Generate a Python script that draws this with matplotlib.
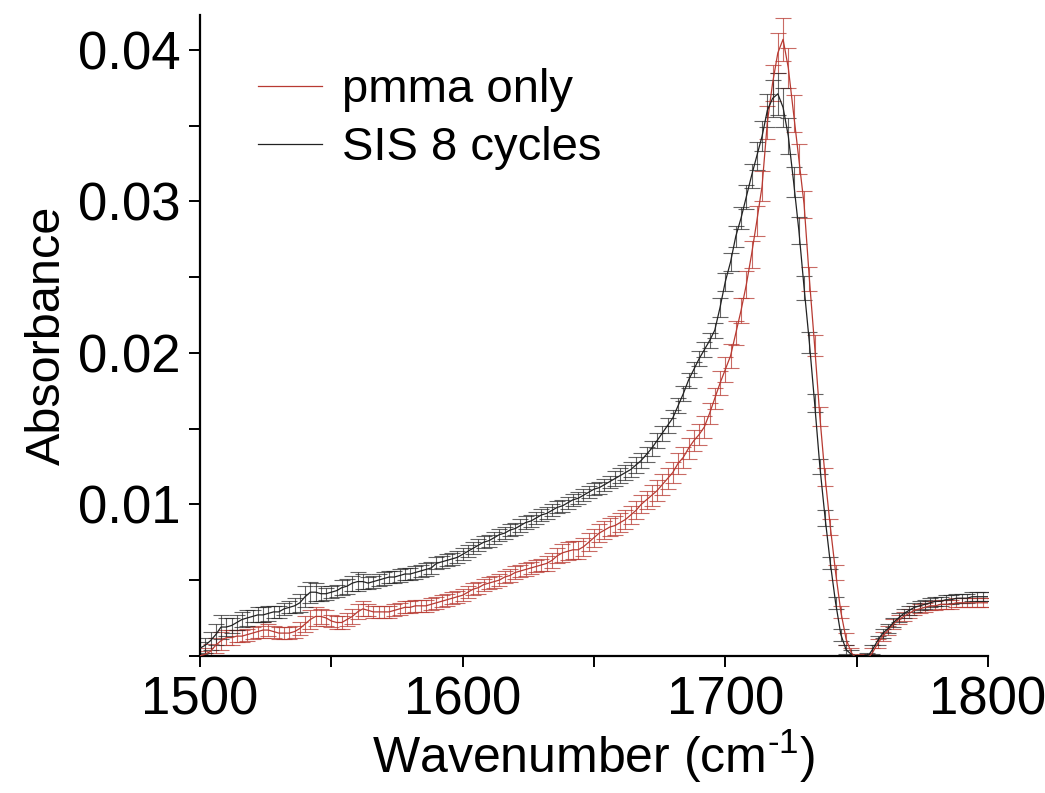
import numpy as np
import matplotlib
matplotlib.use("Agg")
import matplotlib.pyplot as plt
from matplotlib.ticker import MultipleLocator
from matplotlib.lines import Line2D

plt.rcParams['font.family'] = ['Liberation Sans', 'DejaVu Sans']
plt.rcParams['mathtext.fontset'] = 'custom'
plt.rcParams['mathtext.rm'] = 'Liberation Sans'
plt.rcParams['mathtext.default'] = 'regular'

# wavenumber grid (cm^-1), 2 cm^-1 spacing
wavenumber = np.arange(1500, 1801, 2)

pmma_only = [
    0.0000, 0.0001, 0.0003, 0.0007, 0.0010, 0.0012, 0.0012, 0.0013, 0.0013, 0.0014,  # 1500-1518
    0.0015, 0.0016, 0.0017, 0.0017, 0.0016, 0.0015, 0.0015, 0.0015, 0.0016, 0.0018,  # 1520-1538
    0.0021, 0.0024, 0.0026, 0.0026, 0.0025, 0.0023, 0.0022, 0.0022, 0.0024, 0.0026,  # 1540-1558
    0.0029, 0.0031, 0.0030, 0.0029, 0.0029, 0.0029, 0.0029, 0.0030, 0.0031, 0.0032,  # 1560-1578
    0.0032, 0.0033, 0.0033, 0.0033, 0.0034, 0.0035, 0.0036, 0.0037, 0.0038, 0.0039,  # 1580-1598
    0.0040, 0.0042, 0.0044, 0.0045, 0.0047, 0.0048, 0.0049, 0.0050, 0.0052, 0.0053,  # 1600-1618
    0.0055, 0.0056, 0.0057, 0.0058, 0.0059, 0.0060, 0.0061, 0.0063, 0.0066, 0.0068,  # 1620-1638
    0.0069, 0.0070, 0.0070, 0.0072, 0.0075, 0.0078, 0.0081, 0.0083, 0.0085, 0.0086,  # 1640-1658
    0.0088, 0.0090, 0.0093, 0.0096, 0.0100, 0.0103, 0.0106, 0.0109, 0.0113, 0.0117,  # 1660-1678
    0.0121, 0.0127, 0.0131, 0.0137, 0.0142, 0.0146, 0.0151, 0.0160, 0.0170, 0.0180,  # 1680-1698
    0.0189, 0.0198, 0.0213, 0.0228, 0.0245, 0.0265, 0.0287, 0.0310, 0.0352, 0.0378,  # 1700-1718
    0.0398, 0.0407, 0.0388, 0.0358, 0.0328, 0.0298, 0.0249, 0.0205, 0.0158, 0.0118,  # 1720-1738
    0.0085, 0.0055, 0.0029, 0.0011, 0.0002, -0.0002, -0.0004, -0.0002, 0.0002, 0.0008,  # 1740-1758
    0.0013, 0.0017, 0.0021, 0.0024, 0.0026, 0.0028, 0.0030, 0.0031, 0.0032, 0.0033,  # 1760-1778
    0.0033, 0.0034, 0.0034, 0.0034, 0.0035, 0.0035, 0.0035, 0.0035, 0.0035, 0.0035,  # 1780-1798
    0.0035,                                                                          # 1800
]

pmma_err = [
    0.0003, 0.0004, 0.0005, 0.0005, 0.0006, 0.0005, 0.0005, 0.0004, 0.0004, 0.0004,
    0.0004, 0.0004, 0.0005, 0.0004, 0.0004, 0.0004, 0.0004, 0.0004, 0.0004, 0.0004,
    0.0005, 0.0006, 0.0006, 0.0005, 0.0005, 0.0004, 0.0004, 0.0004, 0.0004, 0.0005,
    0.0005, 0.0005, 0.0004, 0.0004, 0.0004, 0.0004, 0.0004, 0.0004, 0.0004, 0.0004,
    0.0004, 0.0004, 0.0004, 0.0004, 0.0004, 0.0004, 0.0004, 0.0004, 0.0004, 0.0004,
    0.0004, 0.0004, 0.0004, 0.0004, 0.0004, 0.0004, 0.0004, 0.0004, 0.0004, 0.0004,
    0.0004, 0.0004, 0.0004, 0.0004, 0.0004, 0.0004, 0.0005, 0.0005, 0.0005, 0.0006,
    0.0006, 0.0006, 0.0006, 0.0006, 0.0006, 0.0006, 0.0006, 0.0006, 0.0006, 0.0006,
    0.0006, 0.0006, 0.0006, 0.0006, 0.0006, 0.0006, 0.0007, 0.0007, 0.0007, 0.0007,
    0.0007, 0.0007, 0.0007, 0.0007, 0.0007, 0.0007, 0.0007, 0.0007, 0.0007, 0.0008,
    0.0008, 0.0008, 0.0008, 0.0008, 0.0009, 0.0009, 0.0010, 0.0010, 0.0011, 0.0012,
    0.0013, 0.0014, 0.0013, 0.0012, 0.0010, 0.0009, 0.0008, 0.0007, 0.0006, 0.0006,
    0.0005, 0.0005, 0.0004, 0.0004, 0.0003, 0.0003, 0.0003, 0.0003, 0.0003, 0.0003,
    0.0003, 0.0003, 0.0003, 0.0003, 0.0003, 0.0003, 0.0003, 0.0003, 0.0003, 0.0003,
    0.0003, 0.0003, 0.0003, 0.0003, 0.0003, 0.0003, 0.0003, 0.0003, 0.0003, 0.0003,
    0.0003,
]

sis_8_cycles = [
    0.0005, 0.0007, 0.0010, 0.0014, 0.0019, 0.0019, 0.0020, 0.0022, 0.0024, 0.0025,  # 1500-1518
    0.0026, 0.0027, 0.0027, 0.0028, 0.0029, 0.0029, 0.0031, 0.0032, 0.0033, 0.0035,  # 1520-1538
    0.0039, 0.0042, 0.0042, 0.0041, 0.0041, 0.0042, 0.0043, 0.0045, 0.0046, 0.0048,  # 1540-1558
    0.0049, 0.0049, 0.0048, 0.0049, 0.0050, 0.0051, 0.0052, 0.0052, 0.0053, 0.0054,  # 1560-1578
    0.0054, 0.0055, 0.0056, 0.0057, 0.0058, 0.0061, 0.0062, 0.0063, 0.0064, 0.0065,  # 1580-1598
    0.0067, 0.0069, 0.0071, 0.0073, 0.0075, 0.0076, 0.0078, 0.0080, 0.0081, 0.0083,  # 1600-1618
    0.0084, 0.0086, 0.0088, 0.0089, 0.0091, 0.0093, 0.0094, 0.0096, 0.0098, 0.0099,  # 1620-1638
    0.0101, 0.0103, 0.0104, 0.0106, 0.0108, 0.0110, 0.0111, 0.0113, 0.0115, 0.0117,  # 1640-1658
    0.0119, 0.0121, 0.0123, 0.0126, 0.0129, 0.0133, 0.0137, 0.0142, 0.0147, 0.0152,  # 1660-1678
    0.0157, 0.0165, 0.0173, 0.0182, 0.0189, 0.0196, 0.0202, 0.0208, 0.0215, 0.0230,  # 1680-1698
    0.0247, 0.0260, 0.0277, 0.0289, 0.0303, 0.0317, 0.0330, 0.0343, 0.0360, 0.0368,  # 1700-1718
    0.0371, 0.0362, 0.0343, 0.0313, 0.0281, 0.0243, 0.0207, 0.0167, 0.0125, 0.0091,  # 1720-1738
    0.0061, 0.0035, 0.0014, 0.0004, 0.0001, -0.0003, -0.0004, -0.0001, 0.0004, 0.0010,  # 1740-1758
    0.0015, 0.0018, 0.0022, 0.0025, 0.0028, 0.0030, 0.0032, 0.0033, 0.0034, 0.0035,  # 1760-1778
    0.0036, 0.0036, 0.0037, 0.0037, 0.0038, 0.0038, 0.0038, 0.0039, 0.0039, 0.0039,  # 1780-1798
    0.0039,                                                                          # 1800
]

sis_err = [
    0.0004, 0.0005, 0.0006, 0.0007, 0.0008, 0.0006, 0.0005, 0.0005, 0.0005, 0.0005,
    0.0004, 0.0005, 0.0005, 0.0005, 0.0004, 0.0004, 0.0004, 0.0004, 0.0005, 0.0006,
    0.0007, 0.0007, 0.0006, 0.0005, 0.0004, 0.0004, 0.0004, 0.0005, 0.0005, 0.0005,
    0.0006, 0.0005, 0.0004, 0.0004, 0.0004, 0.0004, 0.0004, 0.0004, 0.0004, 0.0004,
    0.0004, 0.0004, 0.0004, 0.0004, 0.0004, 0.0004, 0.0004, 0.0004, 0.0004, 0.0004,
    0.0004, 0.0004, 0.0004, 0.0004, 0.0004, 0.0004, 0.0004, 0.0004, 0.0004, 0.0004,
    0.0004, 0.0004, 0.0004, 0.0004, 0.0004, 0.0004, 0.0004, 0.0004, 0.0004, 0.0004,
    0.0004, 0.0004, 0.0004, 0.0004, 0.0004, 0.0004, 0.0004, 0.0004, 0.0004, 0.0005,
    0.0005, 0.0005, 0.0005, 0.0005, 0.0005, 0.0005, 0.0005, 0.0005, 0.0005, 0.0005,
    0.0005, 0.0005, 0.0005, 0.0005, 0.0005, 0.0005, 0.0005, 0.0005, 0.0005, 0.0006,
    0.0006, 0.0006, 0.0007, 0.0007, 0.0008, 0.0008, 0.0009, 0.0010, 0.0011, 0.0012,
    0.0014, 0.0013, 0.0012, 0.0010, 0.0009, 0.0008, 0.0007, 0.0006, 0.0005, 0.0005,
    0.0004, 0.0004, 0.0004, 0.0003, 0.0003, 0.0003, 0.0003, 0.0003, 0.0003, 0.0003,
    0.0003, 0.0003, 0.0003, 0.0003, 0.0003, 0.0003, 0.0003, 0.0003, 0.0003, 0.0003,
    0.0003, 0.0003, 0.0003, 0.0003, 0.0003, 0.0003, 0.0003, 0.0003, 0.0003, 0.0003,
    0.0003,
]

series_labels = ["pmma only", "SIS 8 cycles"]
x_ticks = [1500, 1600, 1700, 1800]
y_ticks = [0.01, 0.02, 0.03, 0.04]

RED = "#b83a32"
BLACK = "#222222"

fig = plt.figure(figsize=(10.45, 7.93), dpi=100)
ax = fig.add_axes([0.1914, 0.173, 0.754, 0.808])

ax.errorbar(wavenumber, pmma_only, yerr=pmma_err, fmt='none', ecolor=RED,
            elinewidth=0.8, capsize=6, capthick=0.8, alpha=0.75, zorder=2)
ax.errorbar(wavenumber, sis_8_cycles, yerr=sis_err, fmt='none', ecolor=BLACK,
            elinewidth=0.8, capsize=6, capthick=0.8, alpha=0.7, zorder=2)
ax.plot(wavenumber, pmma_only, color=RED, lw=0.9, zorder=3)
ax.plot(wavenumber, sis_8_cycles, color=BLACK, lw=0.9, zorder=3)

ax.set_xlim(1500, 1800)
ax.set_ylim(0.0, 0.0423)
ax.set_xticks(x_ticks)
ax.set_xticklabels([str(t) for t in x_ticks])
ax.set_yticks(y_ticks)
ax.set_yticklabels(["0.01", "0.02", "0.03", "0.04"])
ax.xaxis.set_minor_locator(MultipleLocator(50))
ax.yaxis.set_minor_locator(MultipleLocator(0.005))

for s in ["top", "right"]:
    ax.spines[s].set_visible(False)
for s in ["left", "bottom"]:
    ax.spines[s].set_linewidth(1.6)

ax.tick_params(axis='both', which='major', direction='out', length=8, width=1.4,
               labelsize=38, pad=6)
ax.tick_params(axis='both', which='minor', direction='out', length=8, width=1.4)

ax.set_xlabel(r"Wavenumber (cm$^{\text{-1}}$)", fontsize=36, labelpad=2)
ax.set_ylabel("Absorbance", fontsize=35, labelpad=6)

handles = [Line2D([], [], color=RED, lw=0.9), Line2D([], [], color=BLACK, lw=0.9)]
ax.legend(handles, series_labels, loc='upper left', bbox_to_anchor=(0.073, 0.917),
          frameon=False, fontsize=34, handlelength=1.36, handletextpad=0.43,
          labelspacing=0.3, borderaxespad=0, borderpad=0)

fig.savefig("out.png", dpi=100, facecolor="white")
